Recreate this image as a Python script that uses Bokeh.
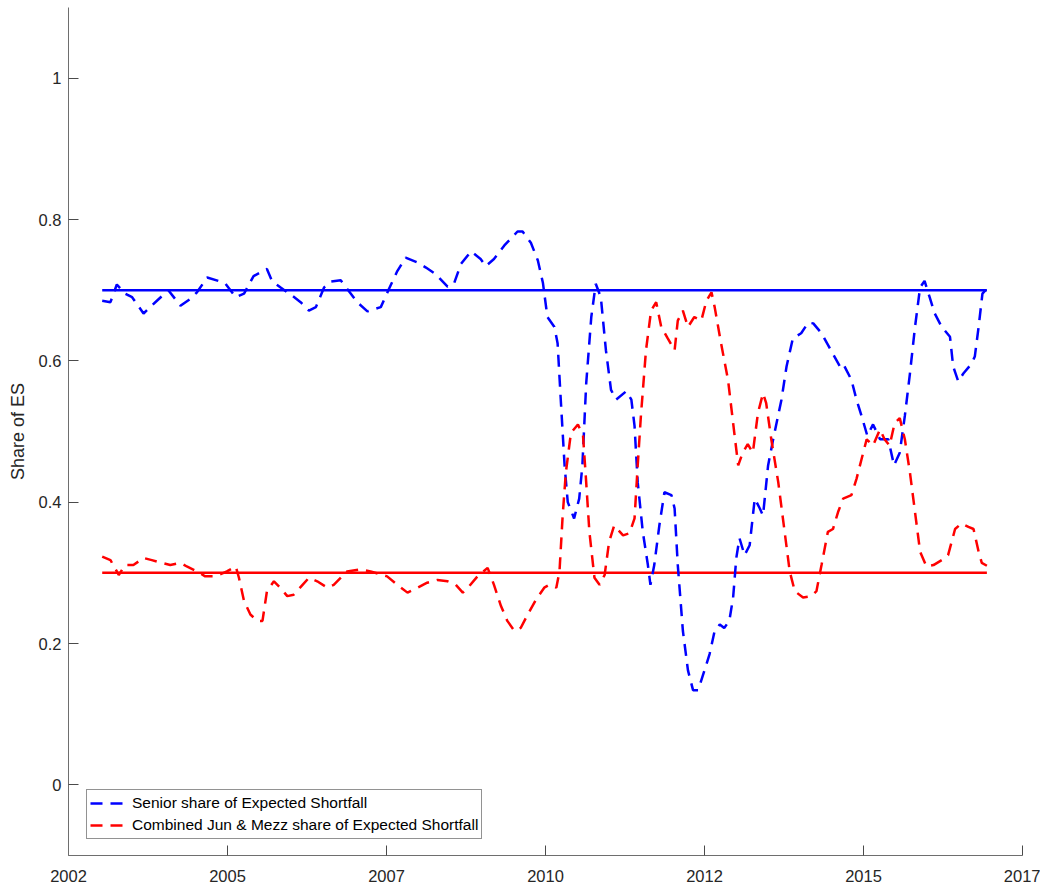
# es_share_plot.py
#
# Share of Expected Shortfall carried by the senior tranche and by the
# combined junior & mezzanine tranches, with their benchmark shares.

# ========
# SETTINGS
# ========

# Libraries
from bokeh import plotting
from bokeh import models
from bokeh.embed import file_html
from bokeh.resources import INLINE

# ====
# DATA
# ====

# Senior share of Expected Shortfall (decimal year, share)
senior_year = [
	2003.03, 2003.16, 2003.26, 2003.39, 2003.50, 2003.68, 2003.89, 2004.07,
	2004.26, 2004.42, 2004.52, 2004.68, 2004.86, 2004.97, 2005.13, 2005.26,
	2005.41, 2005.62, 2005.70, 2005.83, 2006.02, 2006.15, 2006.28, 2006.39,
	2006.52, 2006.62, 2006.78, 2006.88, 2007.04, 2007.20, 2007.41, 2007.54,
	2007.67, 2007.80, 2007.99, 2008.12, 2008.27, 2008.46, 2008.56, 2008.67,
	2008.83, 2008.98, 2009.06, 2009.19, 2009.35, 2009.56, 2009.64, 2009.77,
	2009.88, 2009.96, 2010.03, 2010.14, 2010.19, 2010.24, 2010.30, 2010.35,
	2010.45, 2010.53, 2010.58, 2010.64, 2010.72, 2010.79, 2010.87, 2010.95,
	2011.03, 2011.11, 2011.27, 2011.35, 2011.40, 2011.45, 2011.53, 2011.61,
	2011.65, 2011.71, 2011.79, 2011.87, 2011.98, 2012.03, 2012.08, 2012.16,
	2012.24, 2012.32, 2012.40, 2012.50, 2012.58, 2012.66, 2012.74, 2012.81,
	2012.89, 2012.95, 2013.00, 2013.05, 2013.13, 2013.21, 2013.29, 2013.37,
	2013.42, 2013.50, 2013.58, 2013.71, 2013.79, 2013.89, 2014.02, 2014.13,
	2014.21, 2014.34, 2014.50, 2014.63, 2014.68, 2014.81, 2014.89, 2014.97,
	2015.06, 2015.15, 2015.26, 2015.39, 2015.48, 2015.57, 2015.65, 2015.73,
	2015.81, 2015.89, 2015.96, 2016.04, 2016.12, 2016.23, 2016.36, 2016.41,
	2016.49, 2016.57, 2016.70, 2016.75, 2016.81, 2016.87, 2016.94]
senior_share = [
	0.685, 0.683, 0.708, 0.695, 0.690, 0.667, 0.685, 0.700,
	0.678, 0.688, 0.697, 0.718, 0.713, 0.709, 0.690, 0.695,
	0.720, 0.730, 0.713, 0.704, 0.692, 0.683, 0.671, 0.676,
	0.704, 0.712, 0.714, 0.702, 0.683, 0.670, 0.676, 0.702,
	0.727, 0.746, 0.739, 0.732, 0.723, 0.705, 0.709, 0.737,
	0.755, 0.744, 0.734, 0.744, 0.763, 0.783, 0.783, 0.767,
	0.742, 0.710, 0.662, 0.648, 0.625, 0.545, 0.452, 0.400,
	0.377, 0.405, 0.452, 0.568, 0.662, 0.709, 0.690, 0.615,
	0.559, 0.545, 0.557, 0.545, 0.508, 0.428, 0.358, 0.311,
	0.283, 0.311, 0.367, 0.414, 0.410, 0.391, 0.311, 0.218,
	0.162, 0.134, 0.134, 0.162, 0.185, 0.218, 0.227, 0.222,
	0.232, 0.265, 0.321, 0.349, 0.325, 0.339, 0.405, 0.391,
	0.381, 0.452, 0.489, 0.545, 0.592, 0.632, 0.639, 0.654,
	0.653, 0.639, 0.613, 0.592, 0.596, 0.573, 0.545, 0.522,
	0.494, 0.510, 0.489, 0.489, 0.452, 0.470, 0.522, 0.582,
	0.648, 0.704, 0.713, 0.690, 0.667, 0.648, 0.634, 0.592,
	0.571, 0.582, 0.596, 0.606, 0.648, 0.695, 0.702]

# Combined junior & mezzanine share of Expected Shortfall (decimal year, share)
junmezz_year = [
	2003.03, 2003.16, 2003.29, 2003.39, 2003.52, 2003.68, 2003.81, 2003.97,
	2004.10, 2004.26, 2004.36, 2004.52, 2004.65, 2004.81, 2004.99, 2005.13,
	2005.18, 2005.26, 2005.36, 2005.47, 2005.55, 2005.62, 2005.73, 2005.83,
	2005.94, 2006.04, 2006.18, 2006.28, 2006.41, 2006.57, 2006.67, 2006.88,
	2007.09, 2007.25, 2007.51, 2007.67, 2007.83, 2007.99, 2008.14, 2008.30,
	2008.46, 2008.59, 2008.70, 2008.80, 2008.93, 2009.09, 2009.19, 2009.30,
	2009.40, 2009.51, 2009.61, 2009.72, 2009.85, 2009.98, 2010.06, 2010.17,
	2010.22, 2010.27, 2010.32, 2010.40, 2010.51, 2010.59, 2010.64, 2010.69,
	2010.77, 2010.85, 2010.93, 2011.00, 2011.08, 2011.22, 2011.32, 2011.40,
	2011.45, 2011.50, 2011.58, 2011.66, 2011.74, 2011.82, 2011.92, 2012.03,
	2012.08, 2012.16, 2012.24, 2012.34, 2012.45, 2012.53, 2012.61, 2012.66,
	2012.76, 2012.87, 2012.95, 2013.03, 2013.10, 2013.18, 2013.26, 2013.34,
	2013.42, 2013.47, 2013.55, 2013.66, 2013.76, 2013.84, 2013.92, 2014.05,
	2014.18, 2014.26, 2014.34, 2014.44, 2014.52, 2014.60, 2014.68, 2014.81,
	2014.89, 2014.97, 2015.05, 2015.15, 2015.26, 2015.33, 2015.41, 2015.49,
	2015.57, 2015.65, 2015.73, 2015.81, 2015.89, 2015.99, 2016.10, 2016.23,
	2016.33, 2016.44, 2016.54, 2016.65, 2016.73, 2016.81, 2016.86, 2016.94]
junmezz_share = [
	0.323, 0.318, 0.297, 0.311, 0.311, 0.321, 0.318, 0.314,
	0.311, 0.314, 0.309, 0.302, 0.295, 0.295, 0.302, 0.309,
	0.293, 0.260, 0.241, 0.232, 0.232, 0.274, 0.288, 0.279,
	0.267, 0.269, 0.283, 0.293, 0.288, 0.279, 0.283, 0.302,
	0.305, 0.302, 0.295, 0.283, 0.272, 0.279, 0.286, 0.290,
	0.288, 0.283, 0.272, 0.281, 0.295, 0.307, 0.283, 0.253,
	0.232, 0.218, 0.222, 0.241, 0.262, 0.279, 0.283, 0.279,
	0.302, 0.381, 0.442, 0.498, 0.510, 0.494, 0.428, 0.358,
	0.293, 0.283, 0.297, 0.344, 0.367, 0.353, 0.356, 0.377,
	0.452, 0.522, 0.615, 0.671, 0.683, 0.648, 0.632, 0.615,
	0.657, 0.671, 0.648, 0.662, 0.657, 0.685, 0.697, 0.676,
	0.625, 0.573, 0.512, 0.452, 0.470, 0.482, 0.470, 0.526,
	0.554, 0.540, 0.489, 0.428, 0.358, 0.302, 0.274, 0.265,
	0.267, 0.274, 0.311, 0.358, 0.362, 0.386, 0.405, 0.410,
	0.433, 0.461, 0.489, 0.480, 0.503, 0.489, 0.480, 0.512,
	0.519, 0.489, 0.442, 0.386, 0.330, 0.309, 0.311, 0.318,
	0.325, 0.362, 0.370, 0.365, 0.362, 0.330, 0.314, 0.310]

# Benchmark shares
senior_target = 0.7
junmezz_target = 0.3

# Axis ticks
x_ticks = [2002.5, 2005.0, 2007.5, 2010.0, 2012.5, 2015.0, 2017.5]
x_tick_labels = ['2002', '2005', '2007', '2010', '2012', '2015', '2017']
y_ticks = [0, 0.2, 0.4, 0.6, 0.8, 1.0]

# ====
# MAIN
# ====

def main():
	'''main'''

	# Create figure
	p = plotting.figure(
		width=1040,
		height=888,
		x_range=(2002.5, 2017.5),
		y_range=(-0.1, 1.1),
		y_axis_label='Share of ES',
		output_backend='svg',
		toolbar_location=None,
		tools=''
		)

	# Benchmark lines
	xspan = [senior_year[0], senior_year[-1]]
	p.line(xspan, [senior_target, senior_target], line_color='#0000ff', line_width=2.5)
	p.line(xspan, [junmezz_target, junmezz_target], line_color='#ff0000', line_width=2.5)

	# Share series
	p.line(senior_year, senior_share, line_color='#0000ff', line_width=2.5,
		line_dash='12 8', legend_label='Senior share of Expected Shortfall')
	p.line(junmezz_year, junmezz_share, line_color='#ff0000', line_width=2.5,
		line_dash='12 8', legend_label='Combined Jun & Mezz share of Expected Shortfall')

	# Tidy borders
	p.min_border = 0
	p.min_border_left = 68
	p.min_border_right = 18
	p.min_border_top = 7
	p.min_border_bottom = 33
	p.outline_line_color = None
	p.grid.visible = False
	p.background_fill_color = 'white'
	p.border_fill_color = 'white'

	# Tidy axes
	p.xaxis.ticker = models.FixedTicker(ticks=x_ticks)
	p.xaxis.major_label_overrides = dict(zip(x_ticks, x_tick_labels))
	p.yaxis.ticker = models.FixedTicker(ticks=y_ticks)
	p.yaxis.formatter = models.NumeralTickFormatter(format='0.[0]')
	for ax in [p.xaxis, p.yaxis]:
		ax.axis_line_color = '#6e6e6e'
		ax.axis_line_width = 1
		ax.major_tick_line_color = '#4a4a4a'
		ax.major_tick_in = 10
		ax.major_tick_out = 0
		ax.minor_tick_line_color = None
		ax.major_label_text_font = 'Liberation Sans'
		ax.major_label_text_font_size = '16.5px'
		ax.major_label_text_color = '#262626'
	p.xaxis.major_label_standoff = 14
	p.yaxis.major_label_standoff = 7
	p.yaxis.axis_label_standoff = 8
	p.yaxis.axis_label_text_font = 'Liberation Sans'
	p.yaxis.axis_label_text_font_size = '18px'
	p.yaxis.axis_label_text_font_style = 'normal'
	p.yaxis.axis_label_text_color = '#262626'

	# Tidy legend
	p.legend.location = (18, 16)
	p.legend.border_line_color = '#262626'
	p.legend.border_line_width = 1
	p.legend.background_fill_alpha = 1
	p.legend.padding = 3
	p.legend.margin = 0
	p.legend.spacing = 2
	p.legend.glyph_width = 33
	p.legend.glyph_height = 20
	p.legend.label_height = 20
	p.legend.label_standoff = 9
	p.legend.label_text_font = 'Liberation Sans'
	p.legend.label_text_font_size = '15.5px'
	p.legend.label_text_color = '#000000'

	# Save figure
	open('out.html', 'w').write(file_html(p, INLINE))

# ====
# CALL
# ====

main()
